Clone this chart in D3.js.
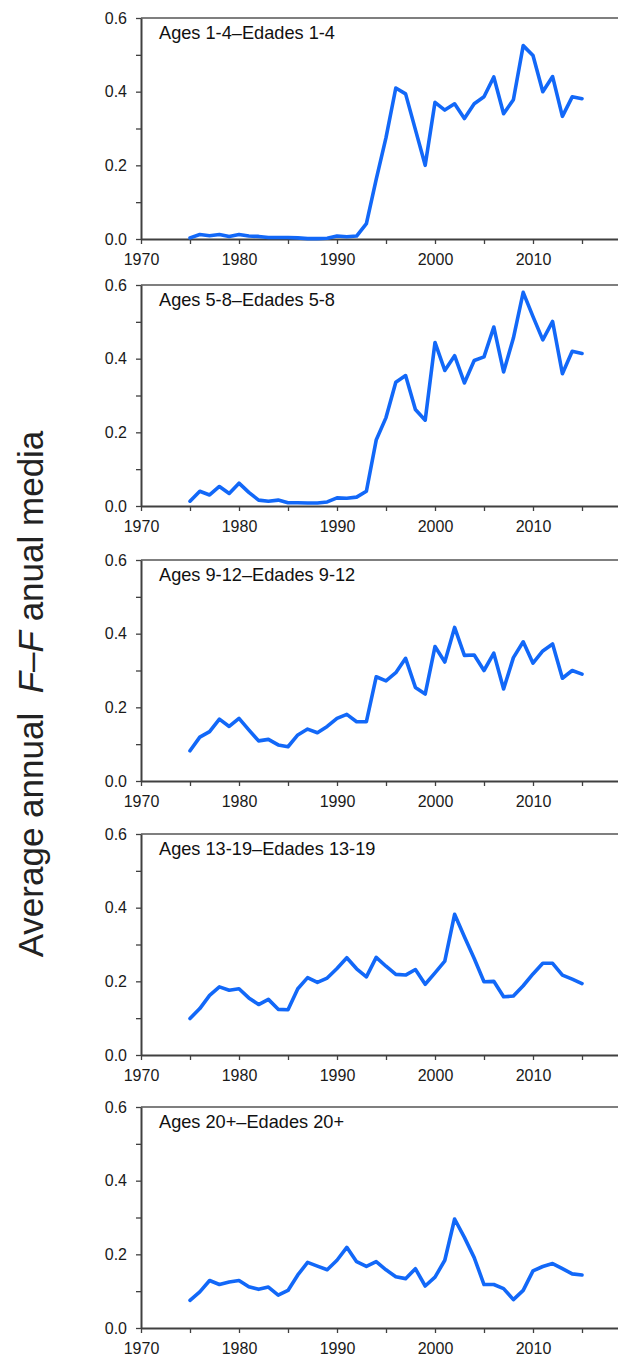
<!DOCTYPE html>
<html>
<head>
<meta charset="utf-8">
<script src="https://cdn.jsdelivr.net/npm/d3@7"></script>
<style>
  body { margin: 0; background: #fff; }
  svg { display: block; font-family: "Liberation Sans", Arial, sans-serif; }
  .axis path, .axis line { stroke: #404040; }
  .axis text { fill: #1a1a1a; font-size: 16px; }
</style>
</head>
<body>
<div class="chart"></div>
<script>
// years 1975-2015
const years = [1975,1976,1977,1978,1979,1980,1981,1982,1983,1984,1985,1986,1987,1988,1989,1990,1991,1992,1993,1994,1995,1996,1997,1998,1999,2000,2001,2002,2003,2004,2005,2006,2007,2008,2009,2010,2011,2012,2013,2014,2015];

const titles = ["Ages 1-4\u2013Edades 1-4", "Ages 5-8\u2013Edades 5-8", "Ages 9-12\u2013Edades 9-12", "Ages 13-19\u2013Edades 13-19", "Ages 20+\u2013Edades 20+"];

const ages1_4 = [0.003,0.012,0.009,0.012,0.007,0.012,0.008,0.007,0.004,0.004,
  0.004,0.003,0.001,0.001,0.002,0.008,0.006,0.008,0.042,0.162,
  0.275,0.41,0.394,0.297,0.2,0.371,0.35,0.367,0.327,0.367,
  0.386,0.44,0.34,0.378,0.525,0.498,0.40,0.441,0.333,0.386,
  0.381];
const ages5_8 = [0.013,0.040,0.030,0.053,0.034,0.062,0.037,0.016,0.013,0.016,
  0.009,0.009,0.008,0.008,0.011,0.022,0.021,0.024,0.040,0.179,
  0.24,0.336,0.354,0.262,0.233,0.444,0.368,0.408,0.334,0.395,
  0.405,0.486,0.364,0.456,0.58,0.514,0.451,0.501,0.359,0.42,
  0.414];
const ages9_12 = [0.082,0.119,0.134,0.168,0.148,0.170,0.139,0.109,0.113,0.098,
  0.093,0.125,0.141,0.131,0.148,0.170,0.181,0.161,0.161,0.283,
  0.272,0.294,0.333,0.254,0.236,0.365,0.323,0.417,0.341,0.342,
  0.30,0.347,0.25,0.335,0.378,0.32,0.353,0.372,0.279,0.30,
  0.29];
const ages13_19 = [0.099,0.126,0.162,0.185,0.176,0.180,0.155,0.137,0.151,0.124,
  0.123,0.180,0.21,0.197,0.209,0.235,0.264,0.234,0.212,0.265,
  0.241,0.219,0.217,0.232,0.192,0.223,0.255,0.382,0.321,0.262,
  0.199,0.20,0.158,0.16,0.188,0.22,0.249,0.249,0.217,0.206,
  0.194];
const ages20 = [0.075,0.098,0.129,0.118,0.125,0.129,0.112,0.105,0.111,0.089,
  0.102,0.144,0.178,0.168,0.158,0.184,0.219,0.18,0.167,0.18,
  0.158,0.139,0.134,0.161,0.114,0.138,0.184,0.296,0.246,0.191,
  0.118,0.118,0.107,0.077,0.102,0.155,0.167,0.175,0.161,0.147,
  0.144];

const series = [ages1_4, ages5_8, ages9_12, ages13_19, ages20];

const yTicks = [0, 0.1, 0.2, 0.3, 0.4, 0.5, 0.6];
const xTicks = [1970,1975,1980,1985,1990,1995,2000,2005,2010,2015];

let W = 618, H = 1356;
let tops = [18, 285, 560, 834, 1107];
let ph = 221;

let svg = d3.select('.chart')
            .append('svg')
            .attr('width', W)
            .attr('height', H);

// x runs 1970-2020, right end falls off the picture
let xScale = d3.scaleLinear()
               .domain([1970, 2020])
               .range([141, 631]);

let line = d3.line()
             .x((d, i) => xScale(years[i]));

series.forEach((vals, k) => {
  let top = tops[k];
  let yScale = d3.scaleLinear()
                 .domain([0, 0.6])
                 .range([top + ph, top]);

  // top border
  svg.append('line')
     .attr('x1', xScale(1970)).attr('x2', xScale(2020))
     .attr('y1', top).attr('y2', top)
     .attr('stroke', '#555')
     .attr('stroke-width', 1.6);

  svg.append('g')
     .attr('class', 'axis')
     .attr('transform', 'translate(' + xScale(1970) + ',0)')
     .call(d3.axisLeft(yScale)
             .tickValues(yTicks)
             .tickSize(5)
             .tickPadding(9)
             .tickSizeOuter(0)
             .tickFormat(d => (Math.round(d * 10) % 2 === 0) ? d3.format('.1f')(d) : ''))
     .call(g => g.select('.domain').attr('stroke-width', 2))
     .call(g => g.selectAll('.tick line').attr('stroke-width', 1.3));

  svg.append('g')
     .attr('class', 'axis')
     .attr('transform', 'translate(0,' + (top + ph) + ')')
     .call(d3.axisBottom(xScale)
             .tickValues(xTicks)
             .tickSize(5)
             .tickPadding(10)
             .tickSizeOuter(0)
             .tickFormat(d => d % 10 === 0 ? d : ''))
     .call(g => g.select('.domain').attr('stroke-width', 2))
     .call(g => g.selectAll('.tick line').attr('stroke-width', 1.3));

  svg.append('path')
     .datum(vals)
     .attr('fill', 'none')
     .attr('stroke', '#1268f8')
     .attr('stroke-width', 3.6)
     .attr('stroke-linejoin', 'round')
     .attr('stroke-linecap', 'round')
     .attr('d', line.y(d => yScale(d)));

  svg.append('text')
     .attr('x', 159)
     .attr('y', top + 21)
     .attr('font-size', 18.2)
     .attr('fill', '#111')
     .text(titles[k]);
});

// y title
let yt = svg.append('text')
            .attr('transform', 'translate(43,694) rotate(-90)')
            .attr('text-anchor', 'middle')
            .attr('font-size', 35)
            .attr('fill', '#222')
            .style('white-space', 'pre');
yt.append('tspan').text('Average annual  ');
yt.append('tspan').attr('font-style', 'italic').text('F');
yt.append('tspan').text('\u2013');
yt.append('tspan').attr('font-style', 'italic').text('F');
yt.append('tspan').text(' anual media');
</script>
</body>
</html>
